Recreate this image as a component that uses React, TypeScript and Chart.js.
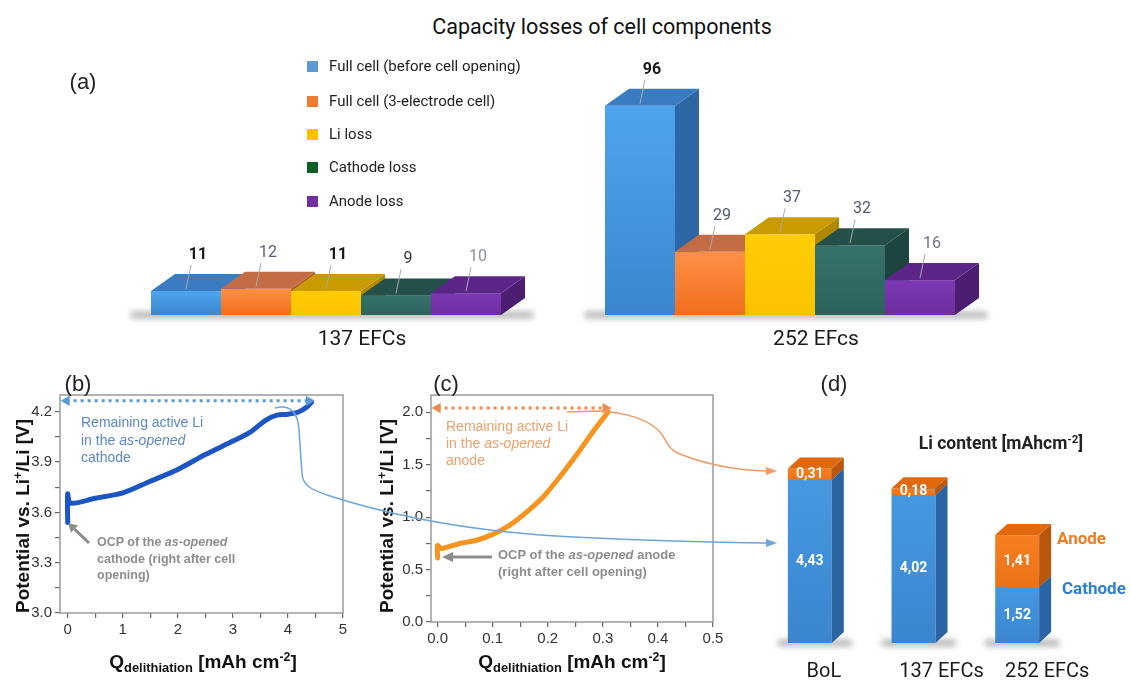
import React, { useEffect, useRef } from 'react';
import { Chart, registerables } from 'chart.js';
Chart.register(...registerables);

const ROBOTO = 'Roboto, "Liberation Sans", sans-serif';
const ARIAL = '"Liberation Sans", Arial, sans-serif';

// ---------- DATA ----------
// (a) capacity losses (%)
const groupLabels = ['137 EFCs', '252 EFcs'];
const seriesNames = [
  'Full cell (before cell opening)',
  'Full cell (3-electrode cell)',
  'Li loss',
  'Cathode loss',
  'Anode loss',
];
const fullCellLoss = [11, 96];
const threeElectrodeLoss = [12, 29];
const liLoss = [11, 37];
const cathodeLoss = [9, 32];
const anodeLoss = [10, 16];

// (b) cathode delithiation curve
const cathodeQ = [0, 0, 0.05, 0.5, 1, 1.5, 2, 2.5, 3, 3.3, 3.6, 3.8, 4.0, 4.2, 4.35, 4.43];
const cathodeV = [3.54, 3.71, 3.655, 3.684, 3.716, 3.786, 3.856, 3.945, 4.025, 4.075, 4.15, 4.18, 4.185, 4.2, 4.23, 4.257];
const cathodeArrowQ = [-0.02, 4.38];
const cathodeArrowV = [4.265, 4.265];

// (c) anode delithiation curve
const anodeQ = [0, 0, 0.007, 0.04, 0.071, 0.101, 0.131, 0.162, 0.192, 0.222, 0.252, 0.282, 0.31];
const anodeV = [0.61, 0.73, 0.7, 0.749, 0.78, 0.838, 0.924, 1.05, 1.194, 1.385, 1.592, 1.815, 2.005];
const anodeArrowQ = [0.0, 0.305];
const anodeArrowV = [2.04, 2.04];

// (d) Li content
const liLabels = ['BoL', '137 EFCs', '252 EFCs'];
const liCathode = [4.43, 4.02, 1.52];
const liAnode = [0.31, 0.18, 1.41];

// ---------- helpers ----------
const pts = (q: number[], v: number[]) => q.map((x, i) => ({ x, y: v[i] }));
const onStep = (v: number, s: number) => Math.abs(v / s - Math.round(v / s)) < 1e-6;

type Face = { front: [string, string]; top: string; side: string };

function draw3D(ctx: CanvasRenderingContext2D, x: number, top: number, bottom: number, w: number, dx: number, dy: number, f: Face) {
  const l = x - w / 2, r = x + w / 2;
  const g = ctx.createLinearGradient(0, top, 0, bottom);
  g.addColorStop(0, f.front[0]);
  g.addColorStop(1, f.front[1]);
  ctx.fillStyle = g;
  ctx.fillRect(l, top, w, bottom - top);
  ctx.fillStyle = f.side;
  ctx.beginPath();
  ctx.moveTo(r, top); ctx.lineTo(r + dx, top - dy); ctx.lineTo(r + dx, bottom - dy); ctx.lineTo(r, bottom);
  ctx.closePath(); ctx.fill();
  ctx.fillStyle = f.top;
  ctx.beginPath();
  ctx.moveTo(l, top); ctx.lineTo(l + dx, top - dy); ctx.lineTo(r + dx, top - dy); ctx.lineTo(r, top);
  ctx.closePath(); ctx.fill();
}

function collect(chart: any) {
  const items: any[] = [];
  chart.data.datasets.forEach((ds: any, di: number) => {
    chart.getDatasetMeta(di).data.forEach((el: any, i: number) => {
      const p = el.getProps(['x', 'y', 'base', 'width'], true);
      items.push({ di, i, x: p.x, y: p.y, base: p.base, w: p.width, v: ds.data[i] });
    });
  });
  return items;
}

function shadow(ctx: CanvasRenderingContext2D, l: number, r: number, b: number) {
  ctx.save();
  ctx.filter = 'blur(3px)';
  ctx.fillStyle = 'rgba(70,70,70,0.45)';
  ctx.fillRect(l, b - 3, r - l, 6);
  ctx.restore();
}

// ---------- (a) plugin ----------
const aFaces: Face[] = [
  { front: ['#4fa4ed', '#3b86cf'], top: '#3a7cc2', side: '#2e67a5' },
  { front: ['#fd9046', '#f26e1c'], top: '#c46c43', side: '#b35a28' },
  { front: ['#ffcd05', '#fcc200'], top: '#c99b00', side: '#b08700' },
  { front: ['#36726b', '#2c625c'], top: '#244f4a', side: '#1e4440' },
  { front: ['#7c38b3', '#6d2da0'], top: '#5c2689', side: '#4b1e72' },
];
// label styling per series: [first group, second group]
const aLabelColor = [['#1a1a1a', '#1a1a1a'], ['#56627a', '#4f5a6c'], ['#1a1a1a', '#4f5a6c'], ['#2f3645', '#4f5a6c'], ['#8a90a0', '#6e7686']];
const aLabelBold = [[true, true], [false, false], [true, false], [false, false], [false, false]];

const bar3dA = {
  id: 'bar3dA',
  afterDatasetsDraw(chart: any) {
    const ctx: CanvasRenderingContext2D = chart.ctx;
    const dx = 24, dy = 17;
    const items = collect(chart);
    const cats = Array.from(new Set(items.map((it) => it.i)));
    cats.forEach((c) => {
      const g = items.filter((it) => it.i === c);
      const l = Math.min(...g.map((it) => it.x - it.w / 2));
      const r = Math.max(...g.map((it) => it.x + it.w / 2));
      shadow(ctx, l - 20, r + dx + 8, g[0].base);
    });
    items.sort((a, b) => a.x - b.x);
    items.forEach((it) => draw3D(ctx, it.x, it.y, it.base, it.w, dx, dy, aFaces[it.di]));
    // value labels with leader lines
    items.forEach((it) => {
      ctx.save();
      ctx.strokeStyle = '#a8a8a8';
      ctx.lineWidth = 1;
      ctx.beginPath();
      ctx.moveTo(it.x, it.y - 2);
      ctx.lineTo(it.x + 5, it.y - 26);
      ctx.stroke();
      ctx.font = (aLabelBold[it.di][it.i] ? 'bold ' : '') + '16px ' + ROBOTO;
      ctx.fillStyle = aLabelColor[it.di][it.i];
      ctx.textAlign = 'center';
      ctx.textBaseline = 'middle';
      ctx.fillText(String(it.v), it.x + 12, it.y - 36);
      ctx.restore();
    });
    // category labels
    ctx.save();
    ctx.font = '21px ' + ROBOTO;
    ctx.fillStyle = '#1a1a1a';
    ctx.textAlign = 'center';
    ctx.textBaseline = 'middle';
    chart.data.labels.forEach((lab: string, i: number) => {
      ctx.fillText(lab, chart.scales.x.getPixelForValue(i) + 36, chart.chartArea.bottom + 25);
    });
    ctx.restore();
  },
};

// ---------- (d) plugin ----------
const dFaces: Face[] = [
  { front: ['#4698e1', '#3a86cf'], top: '#3a7cc0', side: '#2b64a2' },
  { front: ['#f67e20', '#ec7218'], top: '#e0690f', side: '#b9570f' },
];
const dLabelOffsets = [14, 28, 30];

const bar3dD = {
  id: 'bar3dD',
  afterDatasetsDraw(chart: any) {
    const ctx: CanvasRenderingContext2D = chart.ctx;
    const dx = 12, dy = 11;
    const items = collect(chart);
    const cats = Array.from(new Set(items.map((it) => it.i)));
    cats.forEach((c) => {
      const g = items.filter((it) => it.i === c);
      shadow(ctx, g[0].x - g[0].w / 2 - 10, g[0].x + g[0].w / 2 + dx + 8, g[0].base);
    });
    items.sort((a, b) => (a.i - b.i) || (a.di - b.di));
    items.forEach((it) => draw3D(ctx, it.x, Math.min(it.y, it.base), Math.max(it.y, it.base), it.w, dx, dy, dFaces[it.di]));
    ctx.save();
    ctx.font = 'bold 14px ' + ROBOTO;
    ctx.fillStyle = '#ffffff';
    ctx.textAlign = 'center';
    ctx.textBaseline = 'middle';
    items.forEach((it) => {
      ctx.fillText(Number(it.v).toFixed(2).replace('.', ','), it.x, (it.y + it.base) / 2);
    });
    ctx.font = '20px ' + ROBOTO;
    ctx.fillStyle = '#1a1a1a';
    chart.data.labels.forEach((lab: string, i: number) => {
      ctx.fillText(lab, chart.scales.x.getPixelForValue(i) + dLabelOffsets[i], chart.chartArea.bottom + 29);
    });
    ctx.restore();
  },
};

// ---------- frame plugin for (b), (c) ----------
const frame = {
  id: 'frame',
  beforeDatasetsDraw(chart: any) {
    const { left, top, right, bottom } = chart.chartArea;
    const ctx = chart.ctx;
    ctx.save();
    ctx.strokeStyle = '#9b9b9b';
    ctx.lineWidth = 1.5;
    ctx.strokeRect(left, top, right - left, bottom - top);
    ctx.restore();
  },
};

function linAxis(min: number, max: number, step: number, major: number, dec: number, fit: (s: any) => void) {
  return {
    type: 'linear',
    min,
    max,
    border: { display: false },
    grid: {
      drawOnChartArea: false,
      drawTicks: true,
      tickLength: 5,
      lineWidth: 1.2,
      color: '#666',
      tickColor: '#666',
    },
    ticks: {
      autoSkip: false,
      maxRotation: 0,
      padding: 3,
      color: '#333',
      font: { family: ARIAL, size: 15 },
      callback: (v: number) => (onStep(v, major) ? Number(v).toFixed(dec) : ''),
    },
    afterBuildTicks: (s: any) => {
      const out: { value: number }[] = [];
      const n0 = Math.ceil(min / step - 1e-9);
      const n1 = Math.floor(max / step + 1e-9);
      for (let k = n0; k <= n1; k++) out.push({ value: +(k * step).toFixed(6) });
      s.ticks = out;
    },
    afterFit: fit,
  };
}

const commonOpts = {
  responsive: false,
  animation: false,
  devicePixelRatio: 1,
  plugins: { legend: { display: false }, tooltip: { enabled: false } },
};

function configA() {
  const series = [fullCellLoss, threeElectrodeLoss, liLoss, cathodeLoss, anodeLoss];
  return {
    type: 'bar',
    data: {
      labels: groupLabels,
      datasets: series.map((d, i) => ({
        label: seriesNames[i],
        data: d,
        backgroundColor: 'rgba(0,0,0,0)',
        borderWidth: 0,
        barPercentage: 1,
        categoryPercentage: 0.771,
      })),
    },
    options: {
      ...commonOpts,
      layout: { padding: { left: 99, right: 124, top: 57, bottom: 45 } },
      scales: { x: { display: false }, y: { display: false, min: 0, max: 100 } },
    },
    plugins: [bar3dA],
  };
}

function configB() {
  return {
    type: 'line',
    data: {
      datasets: [
        {
          data: pts(cathodeArrowQ, cathodeArrowV),
          borderColor: '#5b9bd5',
          borderWidth: 3,
          borderDash: [3, 4],
          pointStyle: 'triangle',
          pointRadius: 6,
          pointRotation: [-90, 90],
          pointBackgroundColor: '#5b9bd5',
          pointBorderWidth: 0,
          clip: false,
        },
        {
          data: pts(cathodeQ, cathodeV),
          borderColor: '#1c56c4',
          borderWidth: 5,
          pointRadius: 0,
          tension: 0.3,
          borderCapStyle: 'round',
          borderJoinStyle: 'round',
        },
      ],
    },
    options: {
      ...commonOpts,
      layout: { padding: { left: 0, right: 17, top: 15, bottom: 0 } },
      scales: {
        x: linAxis(-0.14, 5, 0.5, 1, 0, (s: any) => { s.height = 67; }),
        y: linAxis(3.0, 4.3, 0.15, 0.3, 1, (s: any) => { s.width = 60; }),
      },
    },
    plugins: [frame],
  };
}

function configC() {
  return {
    type: 'line',
    data: {
      datasets: [
        {
          data: pts(anodeArrowQ, anodeArrowV),
          borderColor: '#f08a4b',
          borderWidth: 3,
          borderDash: [3, 4],
          pointStyle: 'triangle',
          pointRadius: 6,
          pointRotation: [-90, 90],
          pointBackgroundColor: '#f08a4b',
          pointBorderWidth: 0,
          clip: false,
        },
        {
          data: pts(anodeQ, anodeV),
          borderColor: '#f7941d',
          borderWidth: 5,
          pointRadius: 0,
          tension: 0.2,
          borderCapStyle: 'round',
          borderJoinStyle: 'round',
        },
      ],
    },
    options: {
      ...commonOpts,
      layout: { padding: { left: 0, right: 47, top: 15, bottom: 0 } },
      scales: {
        x: linAxis(-0.012, 0.5, 0.05, 0.1, 1, (s: any) => { s.height = 58; }),
        y: linAxis(0, 2.165, 0.25, 0.5, 1, (s: any) => { s.width = 71; }),
      },
    },
    plugins: [frame],
  };
}

function configD() {
  return {
    type: 'bar',
    data: {
      labels: liLabels,
      datasets: [
        { label: 'Cathode', data: liCathode, backgroundColor: 'rgba(0,0,0,0)', borderWidth: 0, barPercentage: 1, categoryPercentage: 0.424 },
        { label: 'Anode', data: liAnode, backgroundColor: 'rgba(0,0,0,0)', borderWidth: 0, barPercentage: 1, categoryPercentage: 0.424 },
      ],
    },
    options: {
      ...commonOpts,
      layout: { padding: { left: 18, right: 62, top: 42, bottom: 40 } },
      scales: {
        x: { display: false, stacked: true },
        y: { display: false, stacked: true, min: 0, max: 6 },
      },
    },
    plugins: [bar3dD],
  };
}

// ---------- components ----------
function ChartBox({ left, top, width, height, make }: { left: number; top: number; width: number; height: number; make: () => any }) {
  const ref = useRef<HTMLCanvasElement | null>(null);
  useEffect(() => {
    if (!ref.current) return;
    const chart = new Chart(ref.current, make());
    return () => chart.destroy();
  }, []);
  return (
    <canvas
      ref={ref}
      width={width}
      height={height}
      style={{ position: 'absolute', left, top, width, height }}
    />
  );
}

function T({ x, y, children, style, center = true }: any) {
  return (
    <div
      style={{
        position: 'absolute',
        left: x,
        top: y,
        whiteSpace: 'nowrap',
        transform: center ? 'translate(-50%, -50%)' : undefined,
        ...style,
      }}
    >
      {children}
    </div>
  );
}

const supS: React.CSSProperties = { fontSize: '0.65em', verticalAlign: '0.55em', lineHeight: 0 };
const subS: React.CSSProperties = { fontSize: '0.68em', verticalAlign: '-0.3em', lineHeight: 0 };

const legendColors = ['#5b9bd5', '#ed7d31', '#ffc000', '#0d5e26', '#7030a0'];
const legendRows = [67, 102, 135, 168, 202];

function YTitle({ x }: { x: number }) {
  return (
    <T x={x} y={516} style={{ transform: 'translate(-50%, -50%) rotate(-90deg)', font: 'bold 19px ' + ARIAL, color: '#111' }}>
      Potential vs. Li<span style={supS}>+</span>/Li [V]
    </T>
  );
}
function XTitle({ x }: { x: number }) {
  return (
    <T x={x} y={662} style={{ font: 'bold 19px ' + ARIAL, color: '#111' }}>
      Q<span style={subS}>delithiation</span> [mAh cm<span style={supS}>-2</span>]
    </T>
  );
}

export default function App() {
  return (
    <div style={{ position: 'fixed', left: 0, top: 0, width: 1131, height: 683, background: '#fff', overflow: 'hidden', fontFamily: ARIAL }}>
      <ChartBox left={0} top={40} width={1131} height={320} make={configA} />
      <ChartBox left={0} top={380} width={360} height={300} make={configB} />
      <ChartBox left={360} top={380} width={400} height={300} make={configC} />
      <ChartBox left={740} top={380} width={391} height={303} make={configD} />

      {/* (a) texts */}
      <T x={602} y={26} style={{ font: '21.5px ' + ROBOTO, color: '#111' }}>Capacity losses of cell components</T>
      <T x={83} y={82} style={{ font: '22px ' + ARIAL, color: '#222' }}>(a)</T>
      {seriesNames.map((n, i) => (
        <div key={n}>
          <div style={{ position: 'absolute', left: 307, top: legendRows[i] - 6, width: 11, height: 11, background: legendColors[i] }} />
          <T x={329} y={legendRows[i] - 10} center={false} style={{ font: '15px ' + ROBOTO, color: '#222', lineHeight: '19px' }}>{n}</T>
        </div>
      ))}

      {/* panel letters */}
      <T x={78} y={384} style={{ font: '22px ' + ARIAL, color: '#222' }}>(b)</T>
      <T x={446} y={384} style={{ font: '22px ' + ARIAL, color: '#222' }}>(c)</T>
      <T x={834} y={384} style={{ font: '22px ' + ARIAL, color: '#222' }}>(d)</T>

      {/* axis titles */}
      <YTitle x={23} />
      <XTitle x={203} />
      <YTitle x={387} />
      <XTitle x={572} />

      {/* (b) annotations */}
      <T x={81} y={414} center={false} style={{ font: '14px ' + ARIAL, color: '#5a86c8', lineHeight: '17.5px' }}>
        Remaining active Li<br />in the <i>as-opened</i><br />cathode
      </T>
      <T x={97} y={534} center={false} style={{ font: 'bold 12.5px ' + ARIAL, color: '#8d8d8d', lineHeight: '16.5px' }}>
        OCP of the <i>as-opened</i><br />cathode (right after cell<br />opening)
      </T>

      {/* (c) annotations */}
      <T x={446} y={418} center={false} style={{ font: '14px ' + ARIAL, color: '#eda06c', lineHeight: '17px' }}>
        Remaining active Li<br />in the <i>as-opened</i><br />anode
      </T>
      <T x={498} y={546} center={false} style={{ font: 'bold 13px ' + ARIAL, color: '#8d8d8d', lineHeight: '17px' }}>
        OCP of the <i>as-opened</i> anode<br />(right after cell opening)
      </T>

      {/* (d) texts */}
      <T x={1001} y={443} style={{ font: 'bold 17.5px ' + ROBOTO, color: '#222' }}>
        Li content [mAhcm<span style={supS}>-2</span>]
      </T>
      <T x={1057} y={538} center={false} style={{ font: 'bold 17px ' + ROBOTO, color: '#f07c22', transform: 'translateY(-50%)' }}>Anode</T>
      <T x={1062} y={588} center={false} style={{ font: 'bold 17px ' + ROBOTO, color: '#2d7fd0', transform: 'translateY(-50%)' }}>Cathode</T>

      {/* connectors and arrows */}
      <svg width={1131} height={683} style={{ position: 'absolute', left: 0, top: 0, pointerEvents: 'none' }}>
        <path d="M 275 408 C 290 404, 298 412, 299 430 L 302 474 C 303 486, 312 490, 330 496 C 380 512, 450 528, 540 535 C 620 540, 700 542, 767 543"
          fill="none" stroke="#6aa6dc" strokeWidth={1.5} />
        <polygon points="777,543 766,539 766,547" fill="#6aa6dc" />
        <path d="M 567 412 L 598 411 C 625 412, 650 420, 660 432 C 667 440, 666 448, 680 454 C 705 464, 735 470, 766 471"
          fill="none" stroke="#f29b64" strokeWidth={1.5} />
        <polygon points="777,471 766,467 766,475" fill="#f29b64" />
        <line x1={89} y1={543} x2={74.5} y2={529.2} stroke="#8c8c8c" strokeWidth={3} />
        <polygon points="68,523 78,525.6 71,532.8" fill="#8c8c8c" />
        <line x1={492} y1={557} x2={452} y2={557} stroke="#8c8c8c" strokeWidth={3} />
        <polygon points="442,557 453,552 453,562" fill="#8c8c8c" />
      </svg>
    </div>
  );
}
